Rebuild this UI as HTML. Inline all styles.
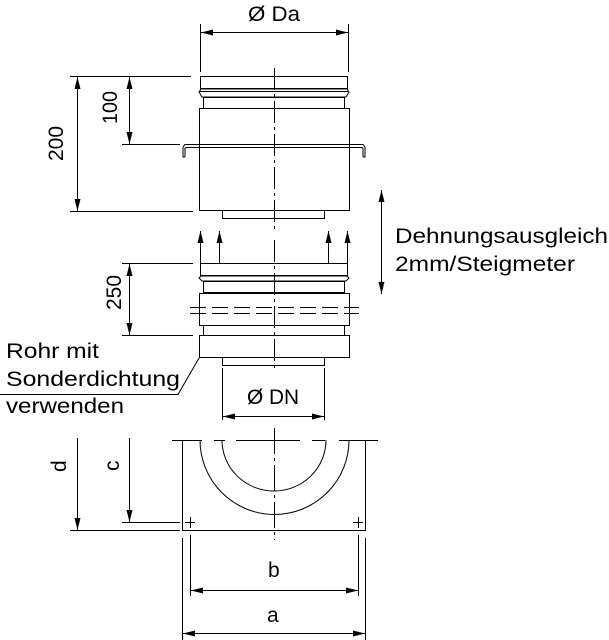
<!DOCTYPE html>
<html><head><meta charset="utf-8"><style>
html,body{margin:0;padding:0;background:#fff;}
svg{display:block;}
text{font-family:"Liberation Sans",sans-serif;fill:#000;}
</style></head><body>
<svg width="609" height="640" viewBox="0 0 609 640" xmlns="http://www.w3.org/2000/svg">
<defs>
<marker id="ar" markerWidth="12" markerHeight="8" refX="12" refY="4" orient="auto" markerUnits="userSpaceOnUse">
<path d="M0,1 L12,4 L0,7 Z" fill="#000"/></marker>
<marker id="al" markerWidth="12" markerHeight="8" refX="0" refY="4" orient="auto" markerUnits="userSpaceOnUse">
<path d="M12,1 L0,4 L12,7 Z" fill="#000"/></marker>
</defs>
<g stroke="#000" stroke-width="1" fill="none">
<line x1="200.5" y1="24" x2="200.5" y2="72"/>
<line x1="348.5" y1="24" x2="348.5" y2="72"/>
<line x1="201" y1="32.5" x2="348" y2="32.5" marker-start="url(#al)" marker-end="url(#ar)"/>
<line x1="274.5" y1="68" x2="274.5" y2="232" stroke-dasharray="22,4,3,4"/>
<line x1="274.5" y1="240" x2="274.5" y2="372" stroke-dasharray="22,4,3,4"/>
<rect x="200.5" y="76.5" width="147" height="12"/>
<path d="M201,89 L347,89 L349,92 L346,97 L202,97 L199,92 Z"/>
<line x1="200" y1="91.5" x2="348" y2="91.5"/>
<rect x="203.5" y="97.5" width="141" height="11"/>
<rect x="199.5" y="108.5" width="150" height="102"/>
<rect x="222.5" y="210.5" width="102" height="8"/>
<path d="M185,157 L183,157 L183,147 L185,144.5 L363,144.5 L365,147 L365,157 L363,157"/>
<path d="M185,157 L185,148 L187,147.5 L361,147.5 L363,148 L363,157"/>
<line x1="70" y1="76.5" x2="191" y2="76.5"/>
<line x1="122" y1="144.5" x2="180" y2="144.5"/>
<line x1="70" y1="211.5" x2="193" y2="211.5"/>
<line x1="77.5" y1="77" x2="77.5" y2="211" marker-start="url(#al)" marker-end="url(#ar)"/>
<line x1="129.5" y1="77" x2="129.5" y2="144" marker-start="url(#al)" marker-end="url(#ar)"/>
<line x1="381.5" y1="190" x2="381.5" y2="294" marker-start="url(#al)" marker-end="url(#ar)"/>
<line x1="200.5" y1="263" x2="200.5" y2="231" marker-end="url(#ar)"/>
<line x1="219.5" y1="263" x2="219.5" y2="231" marker-end="url(#ar)"/>
<line x1="328.5" y1="263" x2="328.5" y2="231" marker-end="url(#ar)"/>
<line x1="347.5" y1="263" x2="347.5" y2="231" marker-end="url(#ar)"/>
<rect x="200.5" y="263.5" width="147" height="12"/>
<path d="M201,276 L347,276 L349,278 L346,281 L202,281 L199,278 Z"/>
<rect x="203.5" y="281.5" width="141" height="11"/>
<rect x="199.5" y="293.5" width="150" height="32"/>
<rect x="203.5" y="325.5" width="141" height="10"/>
<rect x="199.5" y="335.5" width="150" height="22"/>
<rect x="222.5" y="357.5" width="102" height="8"/>
<g stroke-dasharray="16,6">
<line x1="190" y1="307.5" x2="359" y2="307.5"/>
<line x1="190" y1="313.5" x2="359" y2="313.5"/>
</g>
<line x1="122" y1="263.5" x2="193" y2="263.5"/>
<line x1="122" y1="335.5" x2="193" y2="335.5"/>
<line x1="129.5" y1="264" x2="129.5" y2="335" marker-start="url(#al)" marker-end="url(#ar)"/>
<line x1="222.5" y1="368" x2="222.5" y2="420"/>
<line x1="324.5" y1="368" x2="324.5" y2="420"/>
<line x1="223" y1="416.5" x2="324" y2="416.5" marker-start="url(#al)" marker-end="url(#ar)"/>
<polyline points="0,394.5 178,394.5 199,358"/>
<line x1="172" y1="440.5" x2="202" y2="440.5"/>
<line x1="214" y1="440.5" x2="225" y2="440.5"/>
<line x1="236" y1="440.5" x2="300" y2="440.5"/>
<line x1="312" y1="440.5" x2="325" y2="440.5"/>
<line x1="339" y1="440.5" x2="378" y2="440.5"/>
<path d="M182.5,440 L182.5,530.5 L365.5,530.5 L365.5,440"/>
<path d="M200,440 A74,74 0 0 0 349,440"/>
<path d="M222,440 A52,51 0 0 0 326,440"/>
<line x1="274.5" y1="428" x2="274.5" y2="540" stroke-dasharray="26,4,3,4"/>
<line x1="185" y1="522.5" x2="195" y2="522.5"/><line x1="190.5" y1="517" x2="190.5" y2="528"/>
<line x1="353" y1="522.5" x2="363" y2="522.5"/><line x1="358.5" y1="517" x2="358.5" y2="528"/>
<line x1="122" y1="522.5" x2="180" y2="522.5"/>
<line x1="70" y1="530.5" x2="180" y2="530.5"/>
<line x1="77.5" y1="438" x2="77.5" y2="530" marker-end="url(#ar)"/>
<line x1="129.5" y1="438" x2="129.5" y2="522" marker-end="url(#ar)"/>
<line x1="182.5" y1="538" x2="182.5" y2="640"/>
<line x1="365.5" y1="538" x2="365.5" y2="640"/>
<line x1="190.5" y1="535" x2="190.5" y2="596"/>
<line x1="358.5" y1="535" x2="358.5" y2="596"/>
<line x1="191" y1="590.5" x2="358" y2="590.5" marker-start="url(#al)" marker-end="url(#ar)"/>
<line x1="183" y1="633.5" x2="365" y2="633.5" marker-start="url(#al)" marker-end="url(#ar)"/>
</g>
<g font-size="21">
<text x="248" y="21" textLength="52" lengthAdjust="spacingAndGlyphs">Ø Da</text>
<text x="247" y="404" textLength="52" lengthAdjust="spacingAndGlyphs">Ø DN</text>
<text transform="translate(63,161) rotate(-90)" textLength="35" lengthAdjust="spacingAndGlyphs">200</text>
<text transform="translate(117,124) rotate(-90)" textLength="33" lengthAdjust="spacingAndGlyphs">100</text>
<text transform="translate(121,310) rotate(-90)" textLength="35" lengthAdjust="spacingAndGlyphs">250</text>
<text transform="translate(66,472) rotate(-90)">d</text>
<text transform="translate(119,471) rotate(-90)">c</text>
<text x="268" y="577">b</text>
<text x="267" y="622">a</text>
<text x="395" y="243" textLength="213" lengthAdjust="spacingAndGlyphs">Dehnungsausgleich</text>
<text x="395" y="271" textLength="180" lengthAdjust="spacingAndGlyphs">2mm/Steigmeter</text>
<text x="6" y="358" textLength="93" lengthAdjust="spacingAndGlyphs">Rohr mit</text>
<text x="6" y="386" textLength="174" lengthAdjust="spacingAndGlyphs">Sonderdichtung</text>
<text x="6" y="413" textLength="118" lengthAdjust="spacingAndGlyphs">verwenden</text>
</g>
</svg>
</body></html>
